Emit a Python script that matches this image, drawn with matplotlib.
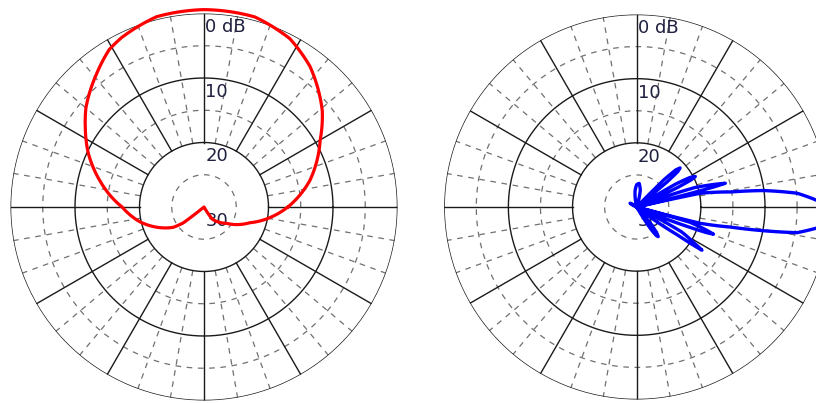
import numpy as np
import matplotlib
matplotlib.use("Agg")
import matplotlib.pyplot as plt

# azimuth (deg, CCW from east) and gain (dB, relative to 0 dB ring)
red_angle = [0, 14, 30, 39, 53, 63, 75, 90, 104, 116, 121, 129, 140, 146, 155,
             166, 180, 193, 213.5, 217.5, 219, 300, 304, 324, 341, 350, 360]
red_gain = [-17.0, -13.1, -9.2, -6.4, -2.7, -0.7, 0.5, 0.6, 0.4, -0.8, -1.5,
            -3.5, -6.1, -7.8, -10.2, -13.4, -17.3, -19.8, -24.3, -26.0, -30.0,
            -30.0, -27.8, -25.7, -22.5, -19.9, -17.0]

blue_angle = [-180, -60, -57.5, -55.5, -54, -52.5, -50, -48,
              -38, -34.5, -34, -33.5, -32, -29, -26.5,
              -23.5, -21, -20.2, -19.5, -18.3, -16, -15.2,
              -14.4, -12.1, -10.6, -9.1, -6.7, -5, -3.5, -2.3, -1, 0.5, 2.2,
              4.9, 7.4, 9.1, 12.2, 12.6, 13,
              13.5, 14.2, 14.6, 15, 16.3, 18.5, 19.5, 20.5,
              24.5, 25.5, 26.5, 27.5, 29, 30.5, 31.5,
              38.5, 39.5, 40.8, 42, 43.5, 45, 46,
              72, 78, 84, 90, 96, 104, 140, 150, 160, 180]
blue_gain = [-30, -30, -26, -24.6, -24.3, -24.8, -26.5, -30,
             -30, -22.5, -19.5, -17.8, -19.5, -22, -30,
             -30, -21.4, -18.5, -17.3, -18.6, -21.4, -30,
             -19.8, -15.1, -9.9, -4.7, -1.8, -0.75, -0.15, 0, -0.2, -0.9, -2.0,
             -4.9, -10.1, -15.2, -19.9, -25, -30,
             -30, -21, -17.5, -15.7, -17.5, -20.5, -24, -30,
             -30, -23, -20.5, -19.7, -20.5, -23, -30,
             -30, -24, -21.5, -20.9, -21.6, -24, -30,
             -30, -27.3, -26.3, -26.5, -27.5, -30, -30, -28.8, -30, -30]

ring_levels = [0, -10, -20, -30]
ring_labels = ["0 dB", "10", "20", "30"]

RMIN = -30
DARK = "#1a1a1a"
GRAY = "#707070"
DASH = (0, (4.5, 4.5))


def draw_grid(ax):
    full = np.linspace(0, 2 * np.pi, 721)
    for lvl in (0, -10, -20):
        ax.plot(full, np.full_like(full, lvl), color=DARK, lw=1.0, zorder=2)
    for lvl in (-5, -15, -25):
        ax.plot(full, np.full_like(full, lvl), color=GRAY, lw=0.9,
                ls=DASH, zorder=1)
    for deg in range(0, 360, 10):
        th = np.deg2rad(deg)
        if deg % 30 == 0:
            ax.plot([th, th], [-20, 0], color=DARK, lw=1.0, zorder=2)
        else:
            ax.plot([th, th], [-20, 0], color=GRAY, lw=0.9, ls=DASH, zorder=1)
    for lvl, txt in zip(ring_levels, ring_labels):
        ax.annotate(txt, xy=(np.pi / 2, lvl), xytext=(1, -3.5),
                    textcoords="offset points", ha="left", va="top",
                    fontsize=13, color="#202040", zorder=3)


def setup(ax):
    ax.set_ylim(RMIN, 0)
    ax.grid(False)
    ax.set_xticks([])
    ax.set_yticks([])
    ax.spines["polar"].set_visible(False)
    ax.patch.set_visible(False)


def pattern(ax, angle, gain, color, lw):
    ln, = ax.plot(np.deg2rad(angle), np.clip(gain, RMIN, None), color=color,
                  lw=lw, clip_on=False, zorder=4, solid_joinstyle="round")
    # let the polar transform bend each segment along theta
    ln.get_path()._interpolation_steps = 30
    return ln


fig = plt.figure(figsize=(8.16, 4.03), dpi=100)
W, H = 816, 403


def polar_axes(cx, cy, r):
    return fig.add_axes([(cx - r) / W, (H - cy - r) / H, 2 * r / W, 2 * r / H],
                        projection="polar")


ax1 = polar_axes(204, 207, 193.5)
setup(ax1)
draw_grid(ax1)
pattern(ax1, red_angle, red_gain, "#ff0000", 2.3)

ax2 = polar_axes(636.7, 207, 192.5)
setup(ax2)
draw_grid(ax2)
pattern(ax2, blue_angle, blue_gain, "#0000ff", 2.4)

fig.savefig("out.png", dpi=100, facecolor="white")
